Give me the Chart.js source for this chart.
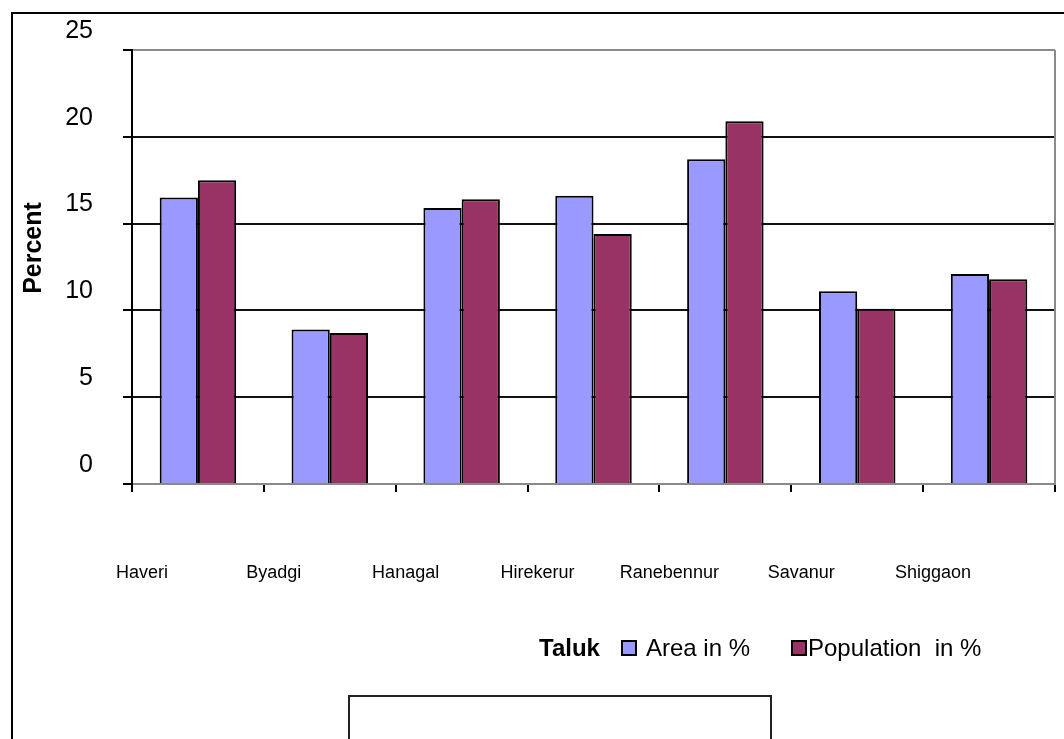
<!DOCTYPE html>
<html>
<head>
<meta charset="utf-8">
<script src="https://cdn.jsdelivr.net/npm/chart.js@4"></script>
<style>
  html, body { margin: 0; padding: 0; background: #fff; }
  #wrap { width: 1064px; height: 739px; position: relative; }
</style>
</head>
<body>
<div id="wrap"><canvas id="chart" width="1064" height="739"></canvas></div>
<script>
(function () {
  "use strict";

  const taluks = ["Haveri", "Byadgi", "Hanagal", "Hirekerur", "Ranebennur", "Savanur", "Shiggaon"];
  const areaPct = [16.5, 8.9, 15.9, 16.6, 18.7, 11.1, 12.1];
  const populationPct = [17.5, 8.7, 16.4, 14.4, 20.9, 10.1, 11.8];
  const yTicks = [0, 5, 10, 15, 20, 25];

  const FONT = "'Liberation Sans', Arial, sans-serif";

  // frame, axis title and legend drawn on top of the chart
  const decor = {
    id: "decor",
    afterDraw(chart) {
      const ctx = chart.ctx;
      const area = chart.chartArea;
      ctx.save();

      // outer frame
      ctx.strokeStyle = "#000";
      ctx.lineWidth = 2;
      ctx.strokeRect(12, 13, 1100, 800);

      // right edge of plot
      ctx.strokeStyle = "#8a8a8a";
      ctx.lineWidth = 2;
      ctx.beginPath();
      ctx.moveTo(area.right, area.top);
      ctx.lineTo(area.right, area.bottom);
      ctx.stroke();

      // empty box at bottom
      ctx.strokeStyle = "#222";
      ctx.lineWidth = 2;
      ctx.strokeRect(349, 696, 422, 80);

      // y axis title
      ctx.fillStyle = "#000";
      ctx.font = "bold 25px " + FONT;
      ctx.textAlign = "center";
      ctx.textBaseline = "middle";
      ctx.translate(34, 248);
      ctx.rotate(-Math.PI / 2);
      ctx.fillText("Percent", 0, 0);
      ctx.setTransform(1, 0, 0, 1, 0, 0);

      // legend
      const ds = chart.data.datasets;
      const baseY = 656;
      ctx.textAlign = "left";
      ctx.textBaseline = "alphabetic";
      ctx.font = "bold 24px " + FONT;
      ctx.fillText("Taluk", 539, baseY);

      ctx.lineWidth = 2;
      ctx.strokeStyle = "#000";
      ctx.fillStyle = ds[0].backgroundColor;
      ctx.fillRect(622, 641, 14, 14);
      ctx.strokeRect(622, 641, 14, 14);
      ctx.fillStyle = ds[1].backgroundColor;
      ctx.fillRect(792, 641, 14, 14);
      ctx.strokeRect(792, 641, 14, 14);

      ctx.fillStyle = "#000";
      ctx.font = "24px " + FONT;
      ctx.fillText(ds[0].label, 646, baseY);
      ctx.fillText(ds[1].label, 808, baseY);

      ctx.restore();
    },
  };

  new Chart(document.getElementById("chart").getContext("2d"), {
    type: "bar",
    data: {
      labels: taluks,
      datasets: [
        {
          label: "Area in %",
          data: areaPct,
          backgroundColor: "#9999ff",
          borderColor: "#000",
          borderWidth: 2,
          borderSkipped: "bottom",
          barPercentage: 1.0,
          categoryPercentage: 0.58,
        },
        {
          label: "Population  in %",
          data: populationPct,
          backgroundColor: "#993366",
          borderColor: "#000",
          borderWidth: 2,
          borderSkipped: "bottom",
          barPercentage: 1.0,
          categoryPercentage: 0.58,
        },
      ],
    },
    options: {
      responsive: false,
      animation: false,
      layout: { padding: { top: 50, right: 9, left: 0, bottom: 0 } },
      plugins: {
        legend: { display: false },
        tooltip: { enabled: false },
      },
      scales: {
        x: {
          afterFit(scale) {
            scale.height = 255;
            scale.paddingLeft = 0;
            scale.paddingRight = 0;
          },
          border: { color: "#8a8a8a", width: 2 },
          grid: {
            drawOnChartArea: false,
            drawTicks: true,
            tickLength: 8,
            tickColor: "#000",
            lineWidth: 2,
          },
          ticks: {
            color: "#000",
            font: { family: FONT, size: 18 },
            padding: 70,
            labelOffset: -56,
            maxRotation: 0,
            autoSkip: false,
          },
        },
        y: {
          min: 0,
          max: 25,
          afterFit(scale) { scale.width = 132; },
          afterBuildTicks(scale) { scale.ticks = yTicks.map((v) => ({ value: v })); },
          border: { color: "#000", width: 2 },
          grid: {
            color: (c) => (c.tick && (c.tick.value === 25 || c.tick.value === 0) ? "#8a8a8a" : "#111"),
            lineWidth: 2,
            tickLength: 9,
            tickColor: "#000",
          },
          ticks: {
            color: "#000",
            font: { family: FONT, size: 25 },
            padding: 30,
            labelOffset: -19,
          },
        },
      },
    },
    plugins: [decor],
  });
})();
</script>
</body>
</html>
